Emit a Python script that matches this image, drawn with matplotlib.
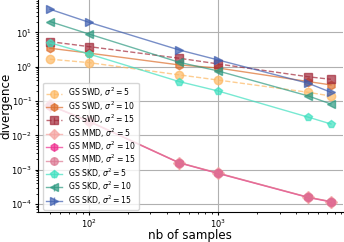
import numpy as np
import matplotlib
matplotlib.use("Agg")
import matplotlib.pyplot as plt

# nombre d'échantillons
n_samples = [50, 100, 500, 1000, 5000, 7500]

# divergences
swd_5 = [1.66, 1.32, 0.58, 0.41, 0.18, 0.14]
swd_10 = [3.46, 2.5, 1.13, 0.92, 0.37, 0.295]
swd_15 = [5.4, 3.86, 1.77, 1.21, 0.51, 0.43]
mmd_5 = [0.075, 0.026, 0.0016, 0.00079, 0.000157, 0.000117]
mmd_10 = [0.074, 0.0255, 0.00158, 0.00078, 0.000155, 0.000115]
mmd_15 = [0.076, 0.0262, 0.00161, 0.0008, 0.000158, 0.000118]
skd_5 = [5.0, 2.36, 0.37, 0.197, 0.034, 0.0215]
skd_10 = [20.7, 9.0, 1.35, 0.755, 0.141, 0.082]
skd_15 = [47.4, 19.8, 3.09, 1.58, 0.33, 0.18]

# barres d'erreur (seules celles du MMD sont visibles)
err_small = [0, 0, 0, 0, 0, 0]
mmd_err = [0.03, 0.01, 0.0006, 0.0002, 0.00006, 0.00004]

series = [
    ("GS SWD, $\\sigma^2=5$", swd_5, err_small, "#fdb863", "o", "--"),
    ("GS SWD, $\\sigma^2=10$", swd_10, err_small, "#dc6e2c", "h", "-"),
    ("GS SWD, $\\sigma^2=15$", swd_15, err_small, "#a32a3a", "s", "--"),
    ("GS MMD, $\\sigma^2=5$", mmd_5, mmd_err, "#f5a3a0", "D", "-"),
    ("GS MMD, $\\sigma^2=10$", mmd_10, err_small, "#ee2f8f", "h", "-"),
    ("GS MMD, $\\sigma^2=15$", mmd_15, err_small, "#dc7892", "o", "-"),
    ("GS SKD, $\\sigma^2=5$", skd_5, err_small, "#3fe0c0", "p", "-"),
    ("GS SKD, $\\sigma^2=10$", skd_10, err_small, "#2f9a82", "<", "-"),
    ("GS SKD, $\\sigma^2=15$", skd_15, err_small, "#3f5fb0", ">", "-"),
]

fig = plt.figure(figsize=(3.44, 2.42), dpi=100)
ax = fig.add_axes([0.110, 0.124, 0.887, 0.876])

for label, vals, err, color, marker, ls in series:
    ax.errorbar(n_samples, vals, yerr=err, color=color, marker=marker,
                linestyle=ls, linewidth=1.0, markersize=6, alpha=0.7,
                elinewidth=1.0, label=label)

ax.set_xscale("log")
ax.set_yscale("log")
ax.set_xlim(40.3, 9300)
ax.set_ylim(5.85e-5, 88)

ax.grid(True, which="major", color="#b0b0b0", linewidth=0.8)
ax.tick_params(labelsize=6, length=2.5, pad=1.5)
ax.tick_params(which="minor", length=1.5)
for spine in ["top", "right"]:
    ax.spines[spine].set_visible(False)

ax.set_xlabel("nb of samples", fontsize=8.6)
ax.set_ylabel("divergence", fontsize=8.6)
ax.xaxis.set_label_coords(0.5, -0.078)
ax.yaxis.set_label_coords(-0.084, 0.5)

ax.legend(loc="lower left", fontsize=5.6, bbox_to_anchor=(0.01, 0.0),
          borderaxespad=0.3, handlelength=2.0, labelspacing=0.0,
          handletextpad=0.8, borderpad=0.4, markerscale=0.9,
          framealpha=0.8)

fig.savefig("out.png", dpi=100)
